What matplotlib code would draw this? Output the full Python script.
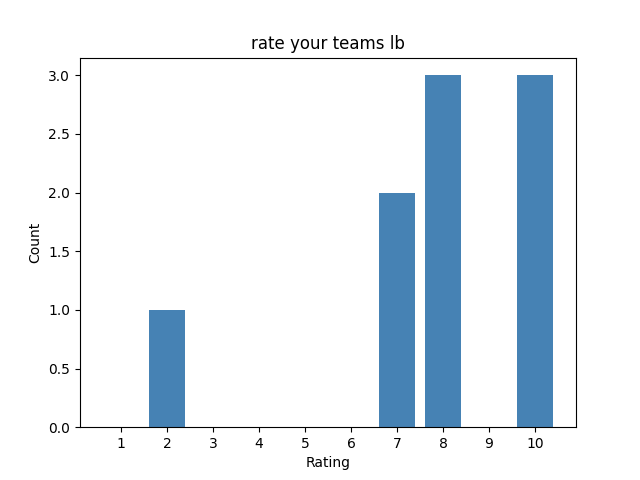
import matplotlib
matplotlib.use("Agg")
import matplotlib.pyplot as plt

ratings = [1, 2, 3, 4, 5, 6, 7, 8, 9, 10]
counts = [0, 1, 0, 0, 0, 0, 2, 3, 0, 3]

fig, ax = plt.subplots(figsize=(6.4, 4.8), dpi=100)
ax.bar(ratings, counts, color="steelblue")
ax.set_xticks(ratings)
ax.set_title("rate your teams lb")
ax.set_xlabel("Rating")
ax.set_ylabel("Count")
fig.savefig("out.png", dpi=100)
